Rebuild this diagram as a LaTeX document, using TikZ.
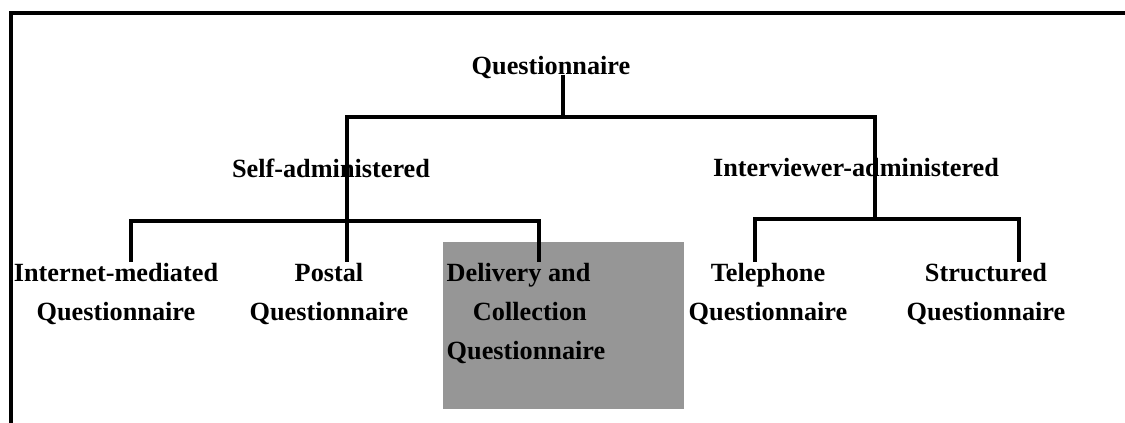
\documentclass[tikz,border=0pt]{standalone}
\usepackage{fontspec}
\setmainfont{Liberation Serif}
\usetikzlibrary{calc,positioning}
\definecolor{boxgray}{RGB}{150,150,150}
\tikzset{
  lbl/.style={inner sep=0pt,anchor=base,align=center,font=\fontsize{19.7}{29.25}\selectfont\bfseries},
  conn/.style={draw,line width=2.3pt,miter limit=4},
  frameln/.style={draw,line width=3pt},
  hilite/.style={fill=boxgray,inner sep=0pt,minimum width=181pt,minimum height=125pt}
}
\begin{document}
\begin{tikzpicture}[x=0.75pt,y=-0.75pt]
  \useasboundingbox (0,0) rectangle (1125,423);
  % Outer frame (only top and left edges show)
  \draw[frameln] (11,423) -- (11,13) -- (1125,13);

  % Highlighted leaf background
  \node[hilite] (dbox) at (563.5,325.5) {};

  % Root and second level
  \node[lbl] (root) at (551,75) {Questionnaire};
  \node[lbl] (self) at (331,178) {Self-administered};
  \node[lbl] (inter) at (856,177) {Interviewer-administered};

  % Leaves (anchored on the baseline of their last line)
  \node[lbl] (inet) at (116,321) {Internet-mediated\\Questionnaire};
  \node[lbl] (postal) at (329,321) {Postal\\Questionnaire};
  \node[lbl, align=left] (deliv) at (526,360) {Delivery and\\\quad Collection\\Questionnaire};
  \node[lbl] (tele) at (768,321) {Telephone\\Questionnaire};
  \node[lbl] (struct) at (986,321) {Structured\\Questionnaire};

  % Bus junctions
  \coordinate (tbus) at (563,117);
  \coordinate (lbus) at (347,221);
  \coordinate (rbus) at (875,219);

  % Connections
  \draw[conn] (root.base -| tbus) -- (tbus);
  \draw[conn] (lbus) |- (tbus) -| (rbus);
  \draw[conn] ($(inet.north)+(15,-2)$) |- (lbus) -| ($(deliv.north)+(13,-2)$);
  \draw[conn] (lbus) -- ($(postal.north -| lbus)+(0,-2)$);
  \draw[conn] ($(tele.north)+(-13,-2)$) |- (rbus) -| ($(struct.north)+(33,-2)$);
\end{tikzpicture}
\end{document}
